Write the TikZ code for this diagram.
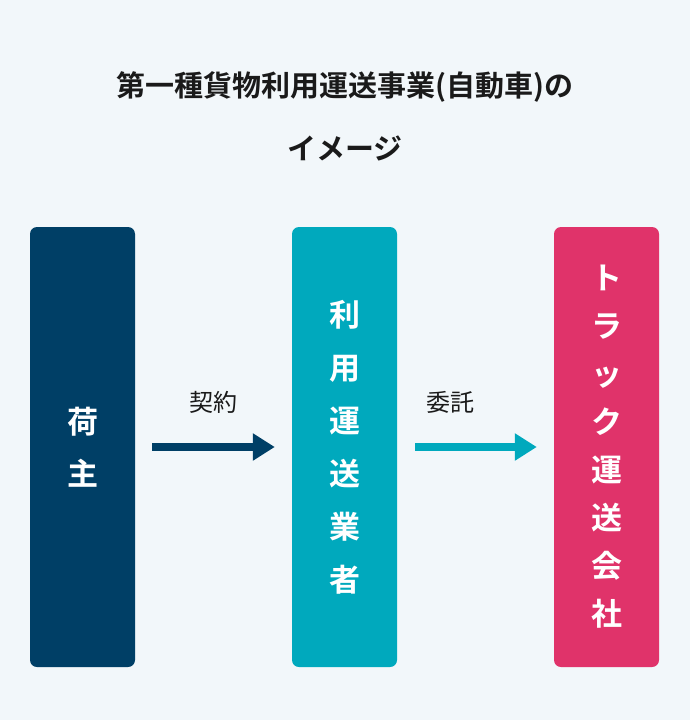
\documentclass[tikz,border=0pt]{standalone}
\usepackage{fontspec}
\newfontfamily\cjk{Noto Sans CJK JP}[BoldFont={* Bold}]
\usetikzlibrary{arrows.meta}
\definecolor{navy}{HTML}{003F66}
\definecolor{teal}{HTML}{00A9BD}
\definecolor{pink}{HTML}{E0336A}
\definecolor{bg}{HTML}{F2F7FA}
\definecolor{ink}{HTML}{1A1A1A}
\tikzset{
  party/.style={rounded corners=7pt, minimum width=105pt, minimum height=440pt, inner sep=0pt},
  vlabel/.style={text=white, font=\cjk\bfseries\fontsize{31}{#1}\selectfont, align=center},
  deal/.style={line width=8pt, -{Triangle[length=22pt,width=26pt]}},
  deallabel/.style={text=ink, font=\cjk\fontsize{24}{28}\selectfont}
}
\begin{document}
\begin{tikzpicture}[x=1pt,y=-1pt]
  \fill[bg] (0,0) rectangle (690,720);
  \useasboundingbox (0,0) rectangle (690,720);
  % Titel
  \node (title) [text=ink, font=\cjk\bfseries\fontsize{29}{63}\selectfont, align=center]
    at (345,116) {第一種貨物利用運送事業(自動車)の\\イメージ};
  % Kaesten
  \node (shipper) [party, fill=navy] at (82.5,447) {};
  \node (forwarder) [party, fill=teal] at (344.5,447) {};
  \node (carrier) [party, fill=pink] at (606.5,447) {};
  \node [vlabel=52] at (shipper) {荷\\主};
  \node [vlabel=53] at (forwarder) {利\\用\\運\\送\\業\\者};
  \node [vlabel=48] at (carrier) {ト\\ラ\\ッ\\ク\\運\\送\\会\\社};
  % Pfeile
  \draw[deal, navy] (shipper.east)+(17,0) -- ([xshift=-17pt]forwarder.west);
  \draw[deal, teal] (forwarder.east)+(18,0) -- ([xshift=-17pt]carrier.west);
  \node (contract) [deallabel] at (213,402) {契約};
  \node (consign) [deallabel] at (450,402) {委託};
\end{tikzpicture}
\end{document}
